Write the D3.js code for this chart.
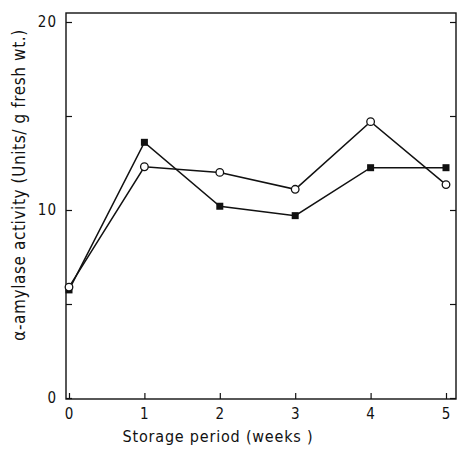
<!DOCTYPE html>
<html>
<head>
<meta charset="utf-8">
<script src="https://cdn.jsdelivr.net/npm/d3@7"></script>
<style>
  body { margin: 0; background: #fff; }
  svg { display: block; }
  text { font-family: "DejaVu Sans Condensed", "DejaVu Sans", sans-serif; fill: #111; }
</style>
</head>
<body>
<svg width="461" height="462"></svg>
<script>
// data
var weeks = [0, 1, 2, 3, 4, 5];
var filledSquares = [5.75, 13.6, 10.2, 9.7, 12.25, 12.25];
var openCircles = [5.9, 12.3, 12.0, 11.1, 14.7, 11.35];
var yTicks = [0, 5, 10, 15, 20];
var yTickLabels = ["0", "", "10", "", "20"];

var svg = d3.select("svg");
var frame = {left: 66, right: 456, top: 13, bottom: 399};

var x = d3.scaleLinear().domain([0, 5]).range([69, 446]);
var y = d3.scaleLinear().domain([0, 20]).range([398, 22]);

// frame
svg.append("rect")
    .attr("x", frame.left).attr("y", frame.top)
    .attr("width", frame.right - frame.left)
    .attr("height", frame.bottom - frame.top)
    .attr("fill", "none").attr("stroke", "#111").attr("stroke-width", 1.4);

// left axis, inward ticks
var left = svg.append("g")
    .attr("transform", "translate(" + frame.left + ",0)")
    .call(d3.axisRight(y).tickValues(yTicks).tickSize(6).tickFormat(""));
left.select(".domain").remove();
left.selectAll("line").attr("stroke", "#111").attr("stroke-width", 1.2);

svg.selectAll(".ylab")
    .data(yTicks)
    .enter().append("text")
    .attr("class", "ylab")
    .attr("x", 57)
    .attr("y", function(d) { return y(d); })
    .attr("dy", "0.36em")
    .attr("text-anchor", "end")
    .style("font-size", "15px")
    .style("letter-spacing", "1px")
    .text(function(d, i) { return yTickLabels[i]; });

// right axis, inward ticks
var right = svg.append("g")
    .attr("transform", "translate(" + frame.right + ",0)")
    .call(d3.axisLeft(y).tickValues(yTicks).tickSize(6).tickFormat(""));
right.select(".domain").remove();
right.selectAll("line").attr("stroke", "#111").attr("stroke-width", 1.2);

// bottom axis, inward ticks
var bottom = svg.append("g")
    .attr("transform", "translate(0," + frame.bottom + ")")
    .call(d3.axisTop(x).tickValues(weeks).tickSize(6).tickFormat(""));
bottom.select(".domain").remove();
bottom.selectAll("line").attr("stroke", "#111").attr("stroke-width", 1.2);

svg.selectAll(".xlab")
    .data(weeks)
    .enter().append("text")
    .attr("class", "xlab")
    .attr("x", function(d) { return x(d); })
    .attr("y", 419)
    .attr("text-anchor", "middle")
    .style("font-size", "15px")
    .text(function(d) { return d; });

// axis titles
svg.append("text")
    .attr("x", 218).attr("y", 442)
    .attr("text-anchor", "middle")
    .style("font-size", "16px")
    .style("letter-spacing", "0.8px")
    .text("Storage period (weeks )");

svg.append("text")
    .attr("transform", "translate(25,185) rotate(-90)")
    .attr("text-anchor", "middle")
    .style("font-size", "17px")
    .style("letter-spacing", "0.6px")
    .text("α-amylase activity (Units/ g fresh wt.)");

var line = d3.line()
    .x(function(d, i) { return x(weeks[i]); })
    .y(function(d) { return y(d); });

// lines
[filledSquares, openCircles].forEach(function(series) {
  svg.append("path")
      .datum(series)
      .attr("d", line)
      .attr("fill", "none")
      .attr("stroke", "#111")
      .attr("stroke-width", 1.5);
});

// markers
svg.selectAll(".sq")
    .data(filledSquares)
    .enter().append("rect")
    .attr("class", "sq")
    .attr("x", function(d, i) { return x(weeks[i]) - 3.5; })
    .attr("y", function(d) { return y(d) - 3.5; })
    .attr("width", 7).attr("height", 7)
    .attr("fill", "#111");

svg.selectAll(".circ")
    .data(openCircles)
    .enter().append("circle")
    .attr("class", "circ")
    .attr("cx", function(d, i) { return x(weeks[i]); })
    .attr("cy", function(d) { return y(d); })
    .attr("r", 3.8)
    .attr("fill", "#fff")
    .attr("stroke", "#111")
    .attr("stroke-width", 1.3);
</script>
</body>
</html>
